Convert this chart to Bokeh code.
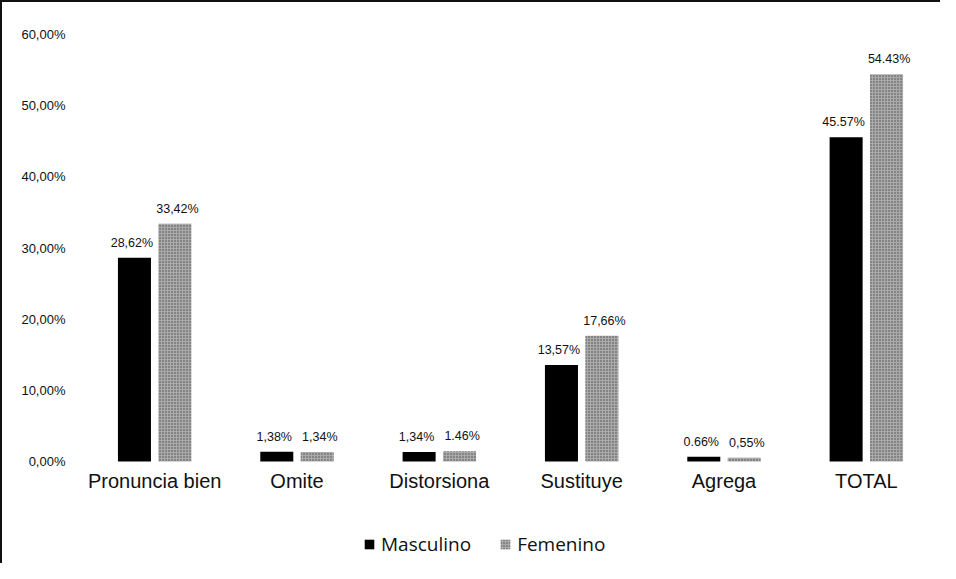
from bokeh.plotting import figure
from bokeh.models import ColumnDataSource, Range1d, FixedTicker, Legend, LegendItem
from bokeh.transform import dodge
from bokeh.core.properties import value
from bokeh.embed import file_html
from bokeh.resources import INLINE

categories = ["Pronuncia bien", "Omite", "Distorsiona", "Sustituye", "Agrega", "TOTAL"]
masculino = [0.2862, 0.0138, 0.0134, 0.1357, 0.0066, 0.4557]
femenino = [0.3342, 0.0134, 0.0146, 0.1766, 0.0055, 0.5443]
masc_labels = ["28,62%", "1,38%", "1,34%", "13,57%", "0.66%", "45.57%"]
fem_labels = ["33,42%", "1,34%", "1.46%", "17,66%", "0,55%", "54.43%"]
y_ticks = [0.0, 0.1, 0.2, 0.3, 0.4, 0.5, 0.6]
y_tick_labels = ["0,00%", "10,00%", "20,00%", "30,00%", "40,00%", "50,00%", "60,00%"]

src = ColumnDataSource(dict(cat=categories, m=masculino, f=femenino,
                            ml=masc_labels, fl=fem_labels,
                            base=[0.0] * len(categories)))

p = figure(x_range=categories, y_range=Range1d(-0.139, 0.6), width=940, height=563,
           output_backend="svg", toolbar_location=None,
           min_border_left=81, min_border_right=5, min_border_top=32, min_border_bottom=5,
           styles={"border-top": "2px solid #111", "border-left": "2px solid #111"})
p.outline_line_color = None
p.grid.grid_line_color = None

font = "Liberation Sans"

rm = p.vbar(x=dodge("cat", -0.142, range=p.x_range), top="m", bottom="base", width=0.232,
            source=src, fill_color="#000000", line_color=None)
rf = p.vbar(x=dodge("cat", 0.142, range=p.x_range), top="f", bottom="base", width=0.232,
            source=src, fill_color="#aaaaaa", line_color=None, hatch_pattern="dot",
            hatch_color="#333333", hatch_scale=3, hatch_alpha=0.8)

p.text(x=dodge("cat", -0.16, range=p.x_range), y="m", text="ml", source=src,
       text_align="center", text_baseline="bottom", y_offset=-8,
       text_font=value(font), text_font_size="12.5px", text_color="#111111")
p.text(x=dodge("cat", 0.16, range=p.x_range), y="f", text="fl", source=src,
       text_align="center", text_baseline="bottom", y_offset=-8,
       text_font=value(font), text_font_size="12.5px", text_color="#111111")

# category labels (x axis drawn as text so the legend can sit inside the frame)
p.text(x="cat", y="base", text="cat", source=src, text_align="center",
       text_baseline="top", y_offset=8, text_font=value(font),
       text_font_size="20px", text_color="#111111")
p.xaxis.visible = False

p.yaxis.ticker = FixedTicker(ticks=y_ticks)
p.yaxis.major_label_overrides = {t: l for t, l in zip(y_ticks, y_tick_labels)}
p.yaxis.axis_line_color = None
p.yaxis.major_tick_line_color = None
p.yaxis.minor_tick_line_color = None
p.yaxis.major_label_standoff = 12
p.yaxis.major_label_text_font = font
p.yaxis.major_label_text_font_size = "13px"
p.yaxis.major_label_text_color = "#111111"

legend = Legend(items=[LegendItem(label="Masculino", renderers=[rm]),
                       LegendItem(label="Femenino", renderers=[rf])],
                orientation="horizontal", location=(280, 3),
                label_text_font="Open Sans", label_text_font_size="19px",
                label_text_color="#111111", glyph_width=12, glyph_height=12,
                label_standoff=6, spacing=28, border_line_color=None,
                background_fill_alpha=0, padding=4, margin=0)
p.add_layout(legend, "center")

open("out.html", "w").write(file_html(p, INLINE))
